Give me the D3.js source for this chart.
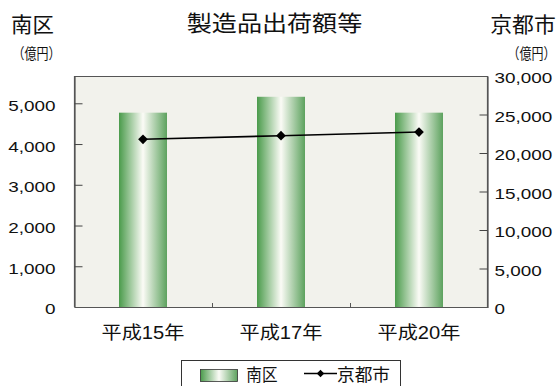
<!DOCTYPE html>
<html>
<head>
<meta charset="utf-8">
<script src="https://cdn.jsdelivr.net/npm/d3@7/dist/d3.min.js"></script>
<style>
  body { margin: 0; background: #fff; }
  svg text { font-family: "Liberation Sans", "Noto Sans CJK JP", sans-serif; fill: #111; }
  svg text.unit { font-family: "Noto Sans CJK JP", sans-serif; }
</style>
</head>
<body>
<div id="chart"></div>
<script>
// データ
var years = ["平成15年", "平成17年", "平成20年"];
var minamiku = [4770, 5160, 4770];       // 南区（億円）
var kyotoshi = [21780, 22250, 22720];    // 京都市（億円）
var leftTicks = [0, 1000, 2000, 3000, 4000, 5000];
var rightTicks = [0, 5000, 10000, 15000, 20000, 25000, 30000];

var width = 560, height = 386;
var plot = { left: 74, top: 76, right: 488, bottom: 307 };
var sx = 1.22; // 文字の横伸び

var svg = d3.select("#chart").append("svg")
  .attr("width", width)
  .attr("height", height);

// グラデーション
var grad = svg.append("defs").append("linearGradient")
  .attr("id", "barGrad").attr("x1", "0%").attr("x2", "100%");
grad.append("stop").attr("offset", "0%").attr("stop-color", "#4a9b4b");
grad.append("stop").attr("offset", "50%").attr("stop-color", "#fbfbf6");
grad.append("stop").attr("offset", "100%").attr("stop-color", "#5da25e");

var x = d3.scaleBand().domain(years)
  .range([plot.left, plot.right]).paddingInner(0).paddingOuter(0);
var yL = d3.scaleLinear().domain([0, 5670]).range([plot.bottom, plot.top]);
var yR = d3.scaleLinear().domain([0, 30000]).range([plot.bottom, plot.top]);
var fmt = d3.format(",");

// 背景
svg.append("rect")
  .attr("x", plot.left).attr("y", plot.top)
  .attr("width", plot.right - plot.left).attr("height", plot.bottom - plot.top)
  .attr("fill", "#f2f2ec");

// 棒
var barW = 48;
svg.selectAll("rect.bar").data(minamiku).enter().append("rect")
  .attr("class", "bar")
  .attr("x", function(d, i) { return x(years[i]) + x.bandwidth() / 2 - barW / 2; })
  .attr("y", function(d) { return yL(d); })
  .attr("width", barW)
  .attr("height", function(d) { return yL(0) - yL(d); })
  .attr("fill", "url(#barGrad)");

// 枠
svg.append("path")
  .attr("d", "M" + (plot.left + 0.5) + "," + plot.bottom + "V" + (plot.top + 0.5) + "H" + (plot.right - 0.5) + "V" + plot.bottom)
  .attr("fill", "none").attr("stroke", "#555").attr("stroke-width", 1.2);

// 左軸
var gL = svg.append("g").attr("transform", "translate(" + (plot.left + 0.5) + ",0)")
  .call(d3.axisRight(yL).tickValues(leftTicks).tickFormat(fmt).tickSize(8).tickSizeOuter(0));
gL.select(".domain").attr("stroke", "#555").attr("stroke-width", 1.2);
gL.selectAll(".tick line").attr("stroke", "#444");
gL.selectAll(".tick").filter(function(d) { return d === 0; }).select("line").remove();
gL.selectAll("text")
  .attr("text-anchor", "end")
  .attr("x", -19 / sx).attr("dy", "0.45em")
  .attr("transform", "scale(" + sx + ",1)")
  .style("font-size", "15.5px");

// 右軸
var gR = svg.append("g").attr("transform", "translate(" + (plot.right - 0.5) + ",0)")
  .call(d3.axisLeft(yR).tickValues(rightTicks).tickFormat(fmt).tickSize(8).tickSizeOuter(0));
gR.select(".domain").attr("stroke", "#555").attr("stroke-width", 1.2);
gR.selectAll(".tick line").attr("stroke", "#444");
gR.selectAll(".tick").filter(function(d) { return d === 0 || d === 30000; }).select("line").remove();
gR.selectAll("text")
  .attr("text-anchor", "start")
  .attr("x", 7 / sx).attr("dy", "0.45em")
  .attr("transform", "scale(" + sx + ",1)")
  .style("font-size", "15.5px");

// 下軸
var gB = svg.append("g").attr("transform", "translate(0," + plot.bottom + ")")
  .call(d3.axisBottom(x).tickSize(0).tickSizeOuter(0));
gB.select(".domain").attr("stroke", "#555").attr("stroke-width", 1.2);
gB.selectAll("text")
  .attr("y", 0).attr("dy", 0)
  .attr("transform", "translate(0,32) scale(1.12,1)")
  .style("font-size", "18px");
// 区切り目盛
[1, 2].forEach(function(i) {
  var bx = Math.round(x(years[i])) + 0.5;
  svg.append("line").attr("x1", bx).attr("x2", bx)
    .attr("y1", plot.bottom).attr("y2", plot.bottom - 4)
    .attr("stroke", "#555");
});

// 折れ線
var pts = kyotoshi.map(function(d, i) { return [x(years[i]) + x.bandwidth() / 2, yR(d)]; });
svg.append("path")
  .attr("d", d3.line()(pts))
  .attr("fill", "none").attr("stroke", "#000").attr("stroke-width", 1.6);
var diamond = d3.symbol().type(d3.symbolDiamond2).size(60);
svg.selectAll("path.pt").data(pts).enter().append("path")
  .attr("class", "pt")
  .attr("d", diamond)
  .attr("transform", function(d) { return "translate(" + d[0] + "," + d[1] + ")"; })
  .attr("fill", "#000");

// 見出し
function label(txt, cx, by, size, k, anchor) {
  return svg.append("text")
    .attr("transform", "translate(" + cx + "," + by + ") scale(" + k + ",1)")
    .attr("text-anchor", anchor || "middle")
    .style("font-size", size + "px")
    .text(txt);
}
label("製造品出荷額等", 274.5, 31, 22, 1.14);
label("南区", 32.5, 31.5, 21, 1.02);
label("京都市", 523, 31.5, 21, 1.04);
label("（億円）", 36.5, 58.5, 15, 0.8).attr("class", "unit");
label("（億円）", 531.5, 58.5, 15, 0.8).attr("class", "unit");

// 凡例
svg.append("rect")
  .attr("x", 181.5).attr("y", 360.5)
  .attr("width", 219).attr("height", 40)
  .attr("fill", "#fff").attr("stroke", "#333");
svg.append("rect")
  .attr("x", 200.5).attr("y", 369.5).attr("width", 37).attr("height", 12)
  .attr("fill", "url(#barGrad)").attr("stroke", "#333").attr("stroke-width", 0.8);
label("南区", 262, 381, 17, 0.92);
svg.append("line").attr("x1", 304).attr("x2", 337).attr("y1", 373.5).attr("y2", 373.5)
  .attr("stroke", "#000").attr("stroke-width", 1.5);
svg.append("path").attr("d", d3.symbol().type(d3.symbolDiamond2).size(36))
  .attr("transform", "translate(320.5,373.5)").attr("fill", "#000");
label("京都市", 363.5, 381, 17, 1.04);
</script>
</body>
</html>
